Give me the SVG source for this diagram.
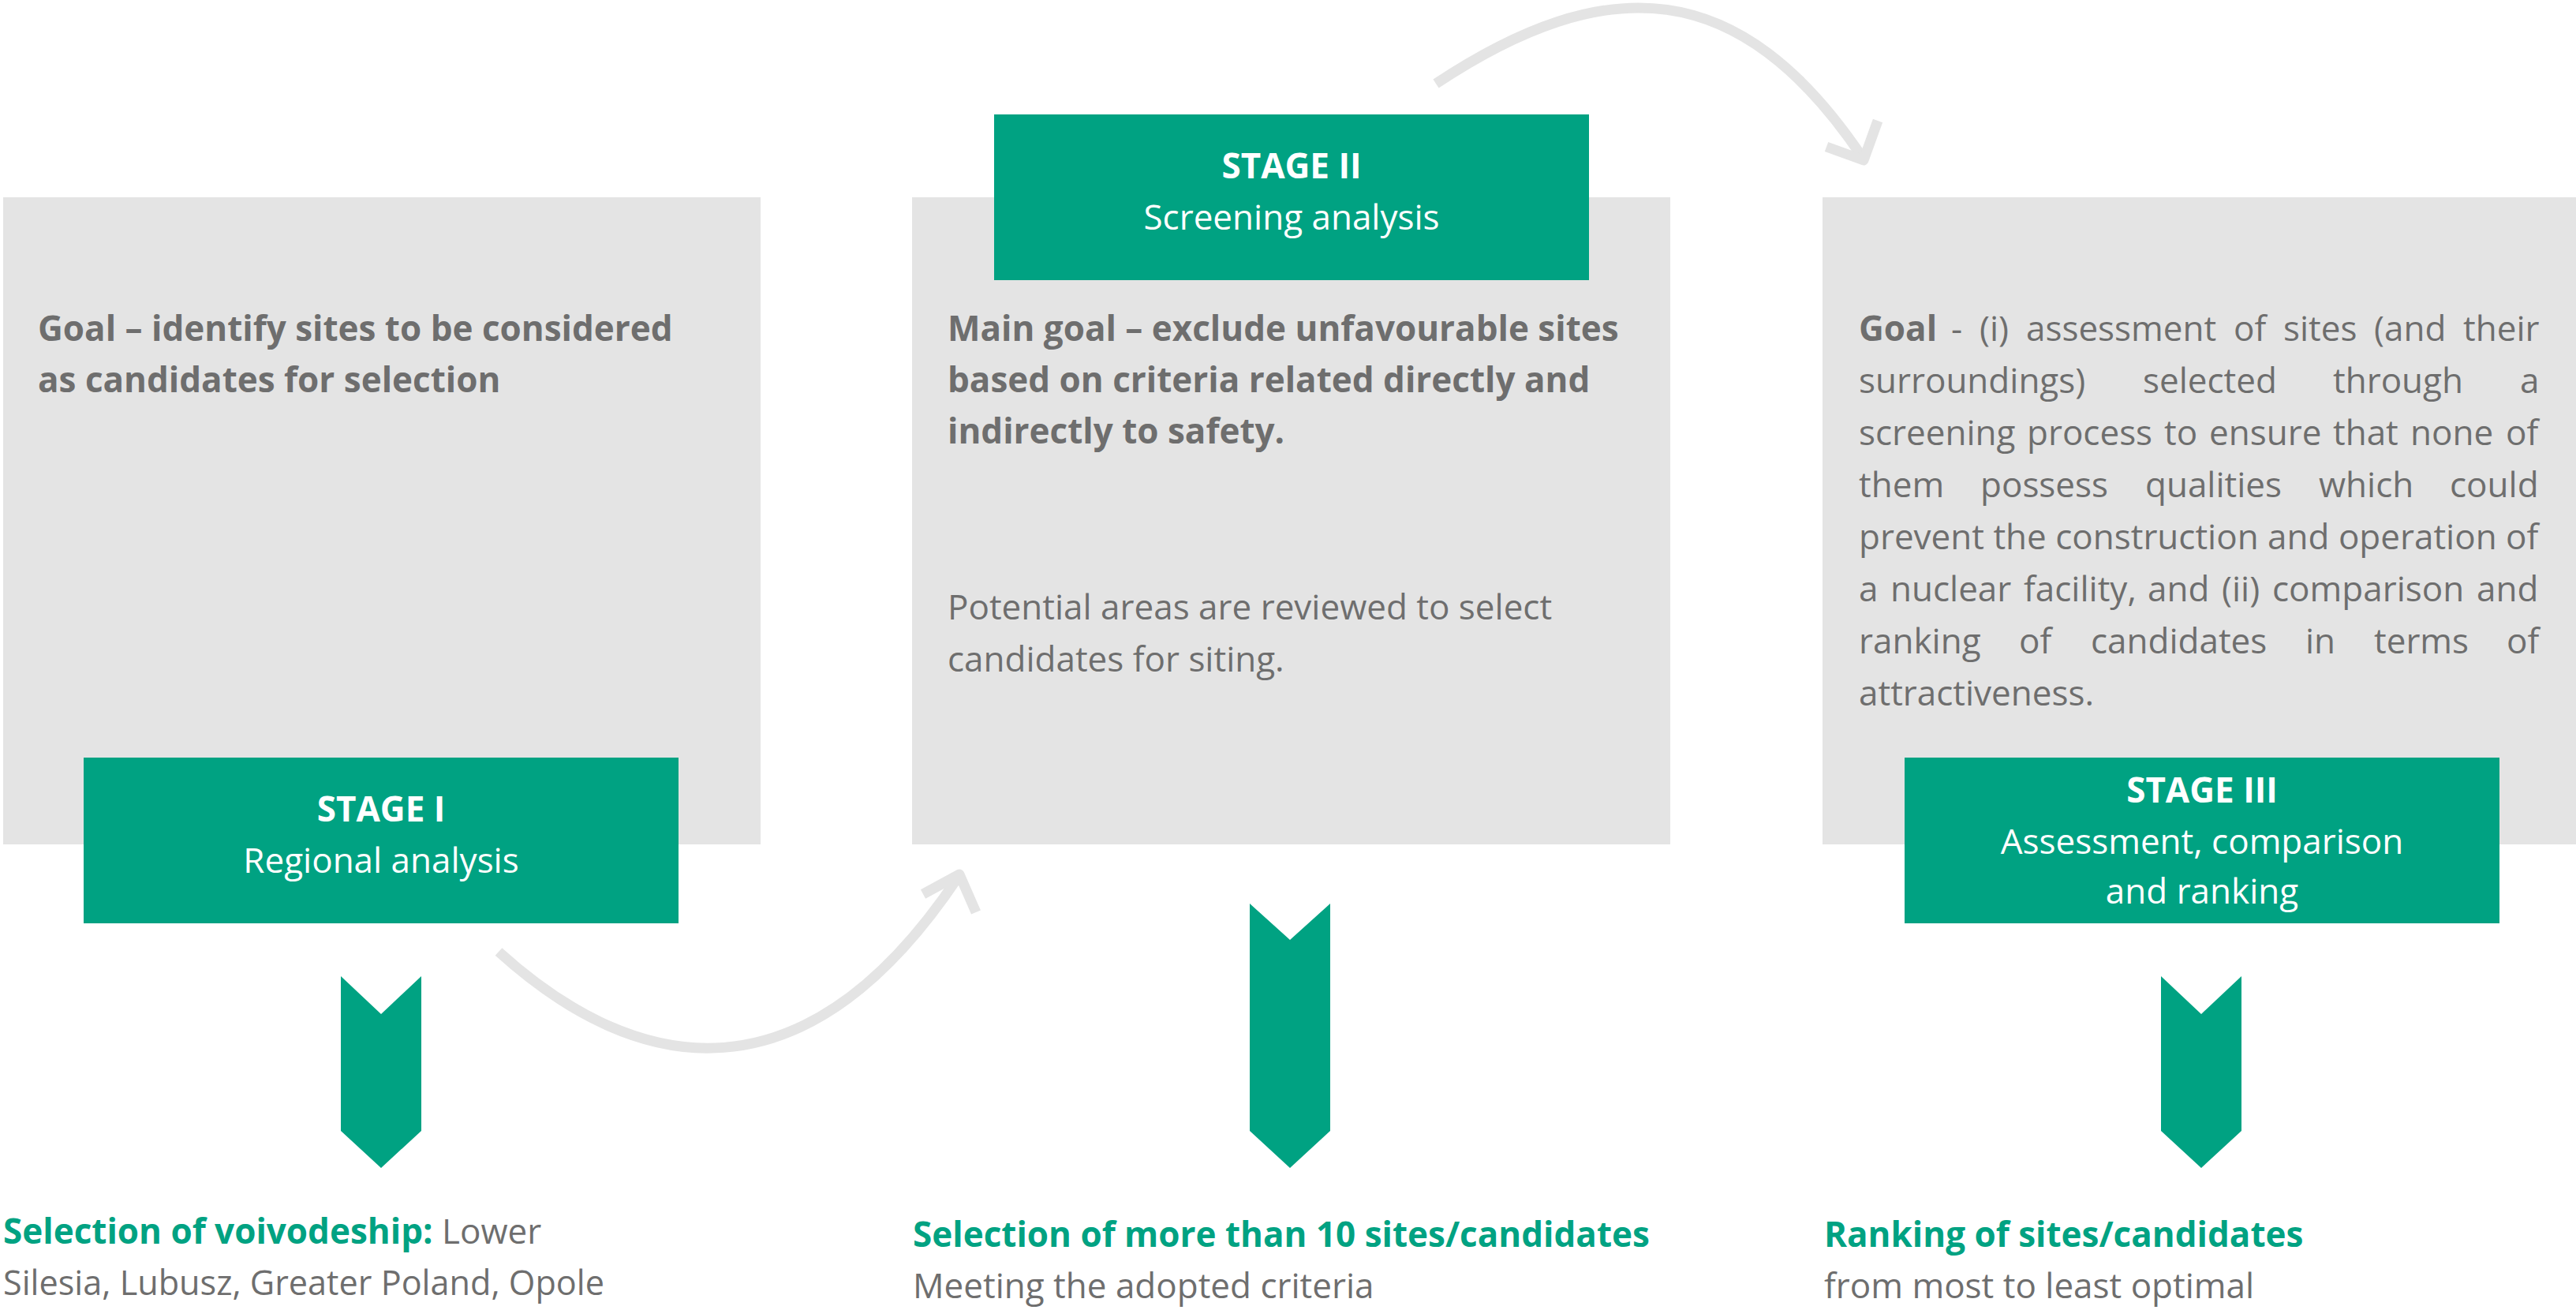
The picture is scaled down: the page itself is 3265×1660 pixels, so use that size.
<svg xmlns="http://www.w3.org/2000/svg" width="3265" height="1660" viewBox="0 0 3265 1660">
<style>
  text { font-family: "Open Sans", "Liberation Sans", sans-serif; font-size: 44px; }
  .panel { fill: #e4e4e4; }
  .label { fill: #00a282; }
  .chev { fill: #00a282; }
  .b { font-weight: 700; }
  .r { font-weight: 400; }
  .grey { fill: #6e6e6e; }
  .white { fill: #ffffff; }
  .green { fill: #00a282; }
  .mid { text-anchor: middle; }
  .conn { fill: none; stroke: #e4e4e4; stroke-width: 13; stroke-linecap: butt; stroke-linejoin: round; }
</style>

<g id="connectors">
  <path class="conn" d="M 632,1206 C 810,1367 1021,1400 1214,1112"/>
  <polyline class="conn" points="1170,1133 1216,1108 1237,1156"/>
  <path class="conn" d="M 1820,106 C 2036,-37 2205,-32 2361,200"/>
  <polyline class="conn" points="2315,186 2362,203 2380,153"/>
</g>

<g id="stage1">
  <rect class="panel" x="4" y="250" width="960" height="820"/>
  <text class="b grey" x="48" y="432">Goal – identify sites to be considered</text>
  <text class="b grey" x="48" y="497">as candidates for selection</text>
  <rect class="label" x="106" y="960" width="754" height="210"/>
  <text class="b white mid" x="483" y="1041">STAGE I</text>
  <text class="r white mid" x="483" y="1106">Regional analysis</text>
  <polygon class="chev" points="432,1237 483,1285 534,1237 534,1433 483,1480 432,1433"/>
  <text x="4" y="1576"><tspan class="b green">Selection of voivodeship:</tspan><tspan class="r grey"> Lower</tspan></text>
  <text class="r grey" x="4" y="1641" textLength="762" lengthAdjust="spacingAndGlyphs">Silesia, Lubusz, Greater Poland, Opole</text>
</g>

<g id="stage2">
  <rect class="panel" x="1156" y="250" width="961" height="820"/>
  <rect class="label" x="1260" y="145" width="754" height="210"/>
  <text class="b white mid" x="1637" y="226">STAGE II</text>
  <text class="r white mid" x="1637" y="291">Screening analysis</text>
  <text class="b grey" x="1201" y="432">Main goal – exclude unfavourable sites</text>
  <text class="b grey" x="1201" y="497">based on criteria related directly and</text>
  <text class="b grey" x="1201" y="562">indirectly to safety.</text>
  <text class="r grey" x="1201" y="785">Potential areas are reviewed to select</text>
  <text class="r grey" x="1201" y="851">candidates for siting.</text>
  <polygon class="chev" points="1584,1145 1635,1191 1686,1145 1686,1433 1635,1480 1584,1433"/>
  <text class="b green" x="1157" y="1580">Selection of more than 10 sites/candidates</text>
  <text class="r grey" x="1157" y="1645">Meeting the adopted criteria</text>
</g>

<g id="stage3">
  <rect class="panel" x="2310" y="250" width="955" height="820"/>
  <text class="r grey" y="432"><tspan class="b" x="2356">Goal</tspan><tspan x="2473">-</tspan><tspan x="2509">(i)</tspan><tspan x="2568">assessment</tspan><tspan x="2831">of</tspan><tspan x="2894">sites</tspan><tspan x="3009">(and</tspan><tspan x="3122">their</tspan></text>
  <text class="r grey" y="498"><tspan x="2356">surroundings)</tspan><tspan x="2716">selected</tspan><tspan x="2957">through</tspan><tspan x="3194">a</tspan></text>
  <text class="r grey" y="564"><tspan x="2356">screening</tspan><tspan x="2569">process</tspan><tspan x="2743">to</tspan><tspan x="2800">ensure</tspan><tspan x="2957">that</tspan><tspan x="3055">none</tspan><tspan x="3176">of</tspan></text>
  <text class="r grey" y="630"><tspan x="2356">them</tspan><tspan x="2510">possess</tspan><tspan x="2719">qualities</tspan><tspan x="2939">which</tspan><tspan x="3105">could</tspan></text>
  <text class="r grey" x="2356" y="696">prevent the construction and operation of</text>
  <text class="r grey" y="762"><tspan x="2356">a</tspan><tspan x="2396">nuclear</tspan><tspan x="2565">facility,</tspan><tspan x="2722">and</tspan><tspan x="2816">(ii)</tspan><tspan x="2880">comparison</tspan><tspan x="3139">and</tspan></text>
  <text class="r grey" y="828"><tspan x="2356">ranking</tspan><tspan x="2559">of</tspan><tspan x="2650">candidates</tspan><tspan x="2922">in</tspan><tspan x="3009">terms</tspan><tspan x="3177">of</tspan></text>
  <text class="r grey" x="2356" y="894">attractiveness.</text>
  <rect class="label" x="2414" y="960" width="754" height="210"/>
  <text class="b white mid" x="2791" y="1017">STAGE III</text>
  <text class="r white mid" x="2791" y="1082">Assessment, comparison</text>
  <text class="r white mid" x="2791" y="1145">and ranking</text>
  <polygon class="chev" points="2739,1237 2790,1285 2841,1237 2841,1433 2790,1480 2739,1433"/>
  <text class="b green" x="2312" y="1580">Ranking of sites/candidates</text>
  <text class="r grey" x="2312" y="1645">from most to least optimal</text>
</g>
</svg>
